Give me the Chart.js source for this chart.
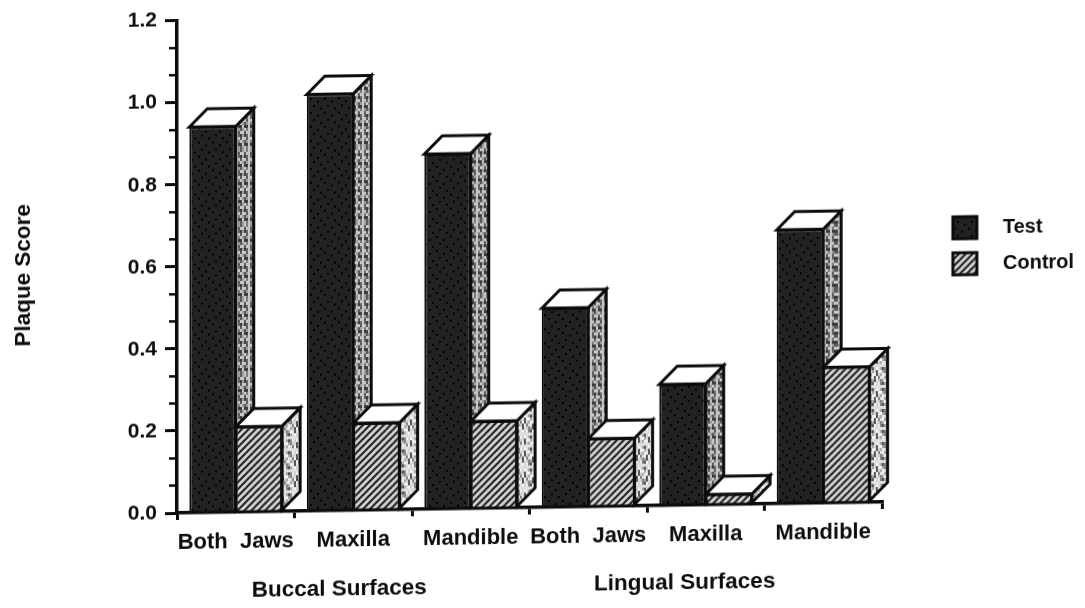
<!DOCTYPE html>
<html lang="en">
<head>
    <meta charset="UTF-8">
    <title>Plaque Score</title>
    <script src="https://cdn.jsdelivr.net/npm/chart.js"></script>
    <style>
        html, body {
            margin: 0;
            padding: 0;
            background: #fff;
            overflow: hidden;
        }
        /* the scan sits slightly crooked: baseline climbs to the right */
        #chart {
            display: block;
            transform-origin: 177px 513px;
            transform: matrix(1, -0.0156, 0, 1, 0, 0);
            filter: blur(0.7px);
        }
    </style>
</head>
<body>
    <canvas id="chart" width="1085" height="608"></canvas>
    <script>
        const categories = ['Both  Jaws', 'Maxilla', 'Mandible', 'Both  Jaws', 'Maxilla', 'Mandible'];
        const testValues = [0.94, 1.015, 0.865, 0.485, 0.295, 0.667];
        const controlValues = [0.208, 0.212, 0.212, 0.165, 0.025, 0.33];
        const seriesNames = ['Test', 'Control'];
        const yTicks = [0, 0.2, 0.4, 0.6, 0.8, 1.0, 1.2];
        const yMinorTicks = [0.067, 0.133, 0.267, 0.333, 0.467, 0.533, 0.667, 0.733, 0.867, 0.933, 1.067, 1.133];
        const yTitle = 'Plaque Score';
        const groupLabels = ['Buccal Surfaces', 'Lingual Surfaces'];

        const INK = '#0c0c0c';
        const FONT = '"Liberation Sans", Arial, sans-serif';
        const DEPTH = 18;

        function makeTile(w, h, paint) {
            const c = document.createElement('canvas');
            c.width = w;
            c.height = h;
            paint(c.getContext('2d'));
            return c.getContext('2d').createPattern(c, 'repeat');
        }

        // dark stipple for Test fronts
        const testFill = makeTile(14, 14, (g) => {
            g.fillStyle = '#222';
            g.fillRect(0, 0, 14, 14);
            g.fillStyle = '#000';
            [[2, 2], [9, 5], [5, 9], [12, 12]].forEach(([x, y]) => g.fillRect(x, y, 2, 2));
        });

        // diagonal hatch for Control fronts
        const controlFill = makeTile(7, 7, (g) => {
            g.fillStyle = '#d2d2d2';
            g.fillRect(0, 0, 7, 7);
            g.strokeStyle = '#262626';
            g.lineWidth = 2.2;
            [[-1, 8, 8, -1], [-4, 4, 4, -4], [3, 11, 11, 3]].forEach(([a, b, c, d]) => {
                g.beginPath();
                g.moveTo(a, b);
                g.lineTo(c, d);
                g.stroke();
            });
        });

        // mottled side faces, fixed scramble so it looks like scanned screen tone
        function mottled(shades) {
            return makeTile(38, 75, (g) => {
                for (let i = 0; i < 19; i++) {
                    for (let j = 0; j < 25; j++) {
                        g.fillStyle = shades[(i * i * 7 + j * j * 3 + i * j * 5 + j) % shades.length];
                        g.fillRect(i * 2, j * 3, 2, 3);
                    }
                }
            });
        }
        const testSide = mottled(['#5a5a5a', '#9c9c9c', '#3c3c3c', '#7a7a7a', '#c8c8c8', '#666']);
        const controlSide = mottled(['#dedede', '#858585', '#f6f6f6', '#555', '#cfcfcf', '#a8a8a8', '#eee']);
        const sideFills = [testSide, controlSide];

        function poly(ctx, pts, fill) {
            ctx.beginPath();
            pts.forEach(([x, y], i) => (i ? ctx.lineTo(x, y) : ctx.moveTo(x, y)));
            ctx.closePath();
            ctx.fillStyle = fill;
            ctx.fill();
            ctx.stroke();
        }

        // side and top faces. Chart.js paints the first series last, so Control's
        // fronts are painted again here to sit on top of Test's side faces
        const bars3d = {
            id: 'bars3d',
            afterDatasetsDraw(chart) {
                const ctx = chart.ctx;
                chart.data.datasets.forEach((ds, d) => {
                    chart.getDatasetMeta(d).data.forEach((bar) => {
                        if (d > 0) {
                            bar.draw(ctx);
                        }
                        const l = bar.x - bar.width / 2;
                        const r = bar.x + bar.width / 2;
                        const t = bar.y;
                        const b = bar.base;
                        ctx.save();
                        ctx.strokeStyle = INK;
                        ctx.lineWidth = 3;
                        poly(ctx, [[r, t], [r + DEPTH, t - DEPTH], [r + DEPTH, b - DEPTH], [r, b]], sideFills[d]);
                        poly(ctx, [[l, t], [l + DEPTH, t - DEPTH], [r + DEPTH, t - DEPTH], [r, t]], '#fff');
                        ctx.restore();
                    });
                });
            }
        };

        const extras = {
            id: 'extras',
            afterDraw(chart) {
                const ctx = chart.ctx;
                const y = chart.scales.y;
                const x = chart.scales.x;
                ctx.save();

                // minor ticks on the value axis
                ctx.strokeStyle = INK;
                ctx.lineWidth = 2.5;
                yMinorTicks.forEach((v) => {
                    const py = y.getPixelForValue(v);
                    ctx.beginPath();
                    ctx.moveTo(x.left - 8, py);
                    ctx.lineTo(x.left, py);
                    ctx.stroke();
                });

                // group captions under the category labels
                ctx.fillStyle = INK;
                ctx.font = 'bold 22.5px ' + FONT;
                ctx.textAlign = 'center';
                ctx.textBaseline = 'middle';
                ctx.fillText(groupLabels[0], x.getPixelForValue(1) - 14, 592);
                ctx.fillText(groupLabels[1], x.getPixelForValue(4) - 21, 591);

                // legend
                ctx.font = 'bold 20px ' + FONT;
                ctx.textAlign = 'left';
                chart.data.datasets.forEach((ds, d) => {
                    const cy = 240 + d * 36;
                    ctx.fillStyle = ds.backgroundColor;
                    ctx.fillRect(953, cy - 11, 24, 22);
                    ctx.lineWidth = 3;
                    ctx.strokeRect(953, cy - 11, 24, 22);
                    ctx.fillStyle = INK;
                    ctx.fillText(ds.label, 1003, cy);
                });

                // value axis title
                ctx.translate(24, 273);
                ctx.rotate(-Math.PI / 2);
                ctx.textAlign = 'center';
                ctx.font = 'bold 22.5px ' + FONT;
                ctx.fillText(yTitle, 0, 0);
                ctx.restore();
            }
        };

        new Chart(document.getElementById('chart'), {
            type: 'bar',
            data: {
                labels: categories,
                datasets: [
                    { label: seriesNames[0], data: testValues, backgroundColor: testFill },
                    { label: seriesNames[1], data: controlValues, backgroundColor: controlFill }
                ]
            },
            options: {
                responsive: false,
                animation: false,
                layout: { padding: { left: 6, top: 16, right: 203, bottom: 0 } },
                datasets: {
                    bar: {
                        barPercentage: 1,
                        categoryPercentage: 0.79,
                        borderColor: INK,
                        borderWidth: 2
                    }
                },
                plugins: {
                    legend: { display: false },
                    tooltip: { enabled: false }
                },
                scales: {
                    x: {
                        afterFit(s) { s.height = 95; },
                        border: { color: INK, width: 3.5 },
                        grid: {
                            offset: true,
                            drawOnChartArea: false,
                            color: INK,
                            lineWidth: 3,
                            tickLength: 7
                        },
                        ticks: {
                            color: INK,
                            padding: 10,
                            maxRotation: 0,
                            autoSkip: false,
                            font: { family: FONT, size: 22, weight: 'bold' }
                        }
                    },
                    y: {
                        min: 0,
                        max: 1.2,
                        afterFit(s) { s.width = 171; },
                        afterBuildTicks(s) { s.ticks = yTicks.map((v) => ({ value: v })); },
                        border: { color: INK, width: 3.5 },
                        grid: {
                            drawOnChartArea: false,
                            color: INK,
                            lineWidth: 3,
                            tickLength: 12
                        },
                        ticks: {
                            color: INK,
                            padding: 8,
                            callback: (v) => v.toFixed(1),
                            font: { family: FONT, size: 21, weight: 'bold' }
                        }
                    }
                }
            },
            plugins: [bars3d, extras]
        });
    </script>
</body>
</html>
